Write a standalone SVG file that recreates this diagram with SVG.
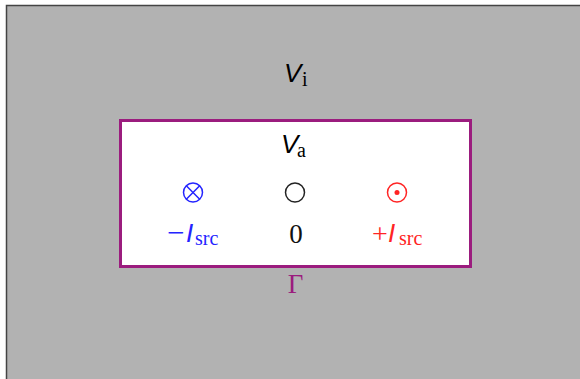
<svg xmlns="http://www.w3.org/2000/svg" width="580" height="379" viewBox="0 0 580 379">
<style>
.v{font-family:"Liberation Sans",Arial,sans-serif;font-style:italic;font-size:26px}
.s{font-family:"Liberation Serif","Times New Roman",serif;font-size:20px}
.r{font-family:"Liberation Serif","Times New Roman",serif;font-size:27px}
.blue{fill:#2424ff}
.red{fill:#ff2424}
</style>
<g id="background">
<rect x="6.5" y="5.5" width="600" height="400" fill="#b2b2b2" stroke="#444" stroke-width="1.5"/>
<text class="v" x="284" y="82">V</text><text class="s" x="302" y="86">i</text>
</g>
<g id="region-a">
<rect x="120.5" y="120.5" width="350" height="146" fill="#fff" stroke="#9b1c7e" stroke-width="3"/>
<text class="v" x="281" y="153">V</text><text class="s" x="297" y="157">a</text>
</g>
<g id="gamma">
<text class="r" x="295.5" y="293" text-anchor="middle" fill="#9b1c7e">Γ</text>
</g>
<g id="sink">
<circle cx="193" cy="192.5" r="9.5" fill="none" stroke="#2424ff" stroke-width="1.5"/>
<path d="M186.3 185.8L199.7 199.2M199.7 185.8L186.3 199.2" stroke="#2424ff" stroke-width="1.5"/>
<text class="r blue" x="167" y="243" style="font-size:31px">−</text>
<text class="v blue" x="186" y="242">I</text><text class="s blue" x="195" y="245">src</text>
</g>
<g id="neutral">
<circle cx="295" cy="192.5" r="9.5" fill="none" stroke="#222" stroke-width="1.5"/>
<text class="r" x="296" y="243" text-anchor="middle" fill="#111">0</text>
</g>
<g id="source">
<circle cx="397" cy="192.5" r="9.5" fill="none" stroke="#ff2424" stroke-width="1.5"/>
<circle cx="397" cy="192.5" r="2.5" fill="#ff2424"/>
<text class="r red" x="372" y="243" style="font-size:28px">+</text>
<text class="v red" x="388" y="242">I</text><text class="s red" x="399" y="245">src</text>
</g>
<g id="connectors"></g>
</svg>
